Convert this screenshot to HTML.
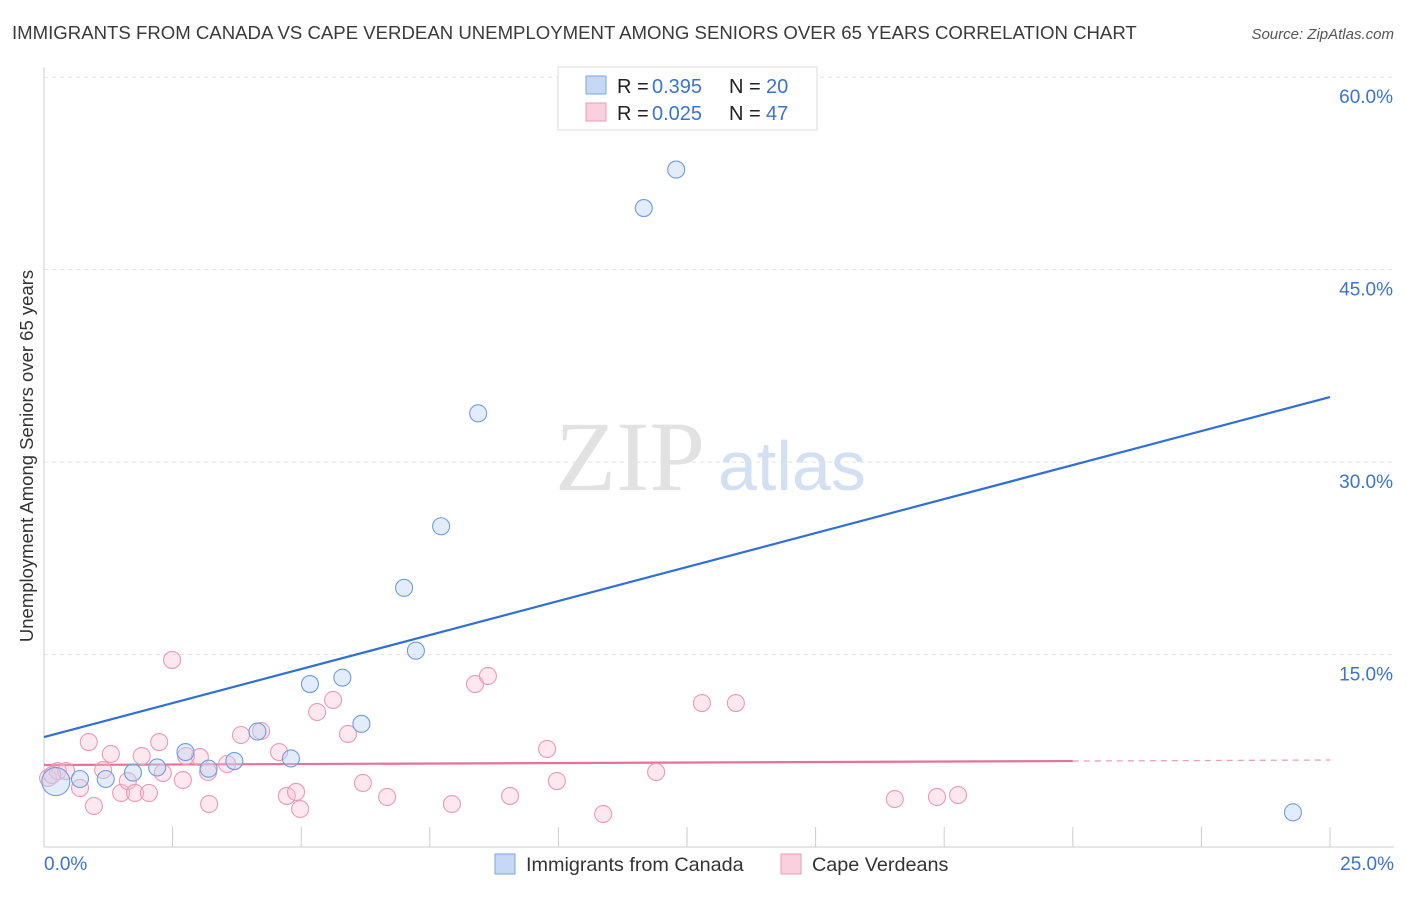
<!DOCTYPE html>
<html><head><meta charset="utf-8"><style>
body{margin:0;background:#fff;font-family:"Liberation Sans",sans-serif}
svg text{font-family:"Liberation Sans",sans-serif}
</style></head><body>
<svg width="1406" height="892" xmlns="http://www.w3.org/2000/svg">
<text x="12" y="39" font-size="18.6" fill="#3a3a3a">IMMIGRANTS FROM CANADA VS CAPE VERDEAN UNEMPLOYMENT AMONG SENIORS OVER 65 YEARS CORRELATION CHART</text>
<text x="1394" y="39" font-size="15" fill="#555" font-style="italic" text-anchor="end">Source: ZipAtlas.com</text>
<g id="grid"></g>
<g id="axes"></g>
<text x="555" y="490" font-size="100" fill="#e2e2e2" style="font-family:'Liberation Serif',serif">ZIP</text>
<text x="718" y="490" font-size="70" fill="#d3e0f3">atlas</text>
<text transform="translate(33,456) rotate(-90)" font-size="18.5" fill="#333" text-anchor="middle">Unemployment Among Seniors over 65 years</text>
<g id="lines"></g>
<g id="pts"></g>
<g>
<rect x="558" y="67" width="259" height="63" fill="#fff" stroke="#ddd"/>
<rect x="586" y="76" width="20" height="18" fill="#c5d8f5" stroke="#7ea6e0"/>
<rect x="586" y="103" width="20" height="18" fill="#fbd0de" stroke="#ee9ab6"/>
<text x="617" y="93" font-size="20" fill="#222">R =</text>
<text x="652" y="93" font-size="20" fill="#3b73d0">0.395</text>
<text x="729" y="93" font-size="20" fill="#222">N =</text>
<text x="766" y="93" font-size="20" fill="#3b73d0">20</text>
<text x="617" y="120" font-size="20" fill="#222">R =</text>
<text x="652" y="120" font-size="20" fill="#3b73d0">0.025</text>
<text x="729" y="120" font-size="20" fill="#222">N =</text>
<text x="766" y="120" font-size="20" fill="#3b73d0">47</text>
</g>
<g>
<rect x="495" y="854" width="20" height="20" fill="#c5d8f5" stroke="#7ea6e0"/>
<text x="526" y="871" font-size="19.8" fill="#333">Immigrants from Canada</text>
<rect x="781" y="854" width="20" height="20" fill="#fbd0de" stroke="#ee9ab6"/>
<text x="812" y="871" font-size="19.8" fill="#333">Cape Verdeans</text>
</g>
</svg>
<script>
const xTicks=[0,2.5,5,7.5,10,12.5,15,17.5,20,22.5,25];
const yTicks=[15,30,45,60];
const yTickLabels=["15.0%","30.0%","45.0%","60.0%"];
const xEndLabels=["0.0%","25.0%"];
const canadaX=[0.23,0.7,1.2,1.73,2.2,2.75,3.2,3.7,4.15,4.8,5.17,5.8,6.17,7.0,7.23,7.72,8.44,11.66,12.29,24.28];
const canadaY=[5.1,5.3,5.3,5.8,6.2,7.4,6.1,6.7,9.0,6.9,12.7,13.2,9.6,20.2,15.3,25.0,33.8,49.8,52.8,2.7];
const capeX=[0.08,0.27,0.43,0.70,0.87,0.97,1.15,1.30,1.50,1.63,1.77,1.90,2.04,2.24,2.31,2.49,2.70,2.76,3.03,3.19,3.21,3.56,3.83,4.22,4.57,4.72,4.90,4.98,5.31,5.62,5.91,6.20,6.67,7.93,8.38,8.63,9.06,9.78,9.97,10.87,11.90,12.79,13.45,16.54,17.36,17.77,0.16];
const capeY=[5.38,5.92,5.92,4.60,8.18,3.20,6.00,7.25,4.21,5.14,4.21,7.09,4.21,8.18,5.77,14.58,5.22,7.09,7.01,5.85,3.35,6.47,8.73,9.04,7.40,3.98,4.29,2.96,10.52,11.46,8.81,4.99,3.90,3.35,12.70,13.33,3.98,7.64,5.14,2.57,5.85,11.22,11.22,3.74,3.90,4.05,5.61];
const canadaTrend=[8.57,35.07];
const capeTrend=[6.39,6.7,6.78];
const NS="http://www.w3.org/2000/svg";
const X=v=>44+v*1286/25, Y=v=>847-v*12.83;
function mk(p,t,a){const e=document.createElementNS(NS,t);for(const k in a)e.setAttribute(k,a[k]);p.appendChild(e);return e;}
const grid=document.getElementById('grid'),axes=document.getElementById('axes'),lines=document.getElementById('lines'),pts=document.getElementById('pts');
yTicks.forEach((t,i)=>{
 const l=mk(grid,'line',{x1:44,x2:1394,y1:Y(t),y2:Y(t),stroke:'#e4e4e4','stroke-dasharray':'4,4'});
 
 
 const tx=mk(axes,'text',{x:1393,y:Y(t)+26,'font-size':19,fill:'#3b73d0','text-anchor':'end'});
 tx.textContent=yTickLabels[i];
 
 
});
const ax=mk(axes,'line',{x1:44,x2:1394,y1:847,y2:847,stroke:'#ccc'});


const ay=mk(axes,'line',{x1:44,x2:44,y1:67,y2:847,stroke:'#ccc'});


xTicks.forEach(t=>{const l=mk(axes,'line',{x1:X(t),x2:X(t),y1:827,y2:847,stroke:'#ccc'});
 
 });
[[0,'start',44],[25,'end',1394]].forEach((d,i)=>{const tx=mk(axes,'text',{x:d[2],y:870,'font-size':19,fill:'#3b73d0','text-anchor':d[1]});tx.textContent=xEndLabels[i];
 
 });
const bl=mk(lines,'line',{x1:X(0),y1:Y(canadaTrend[0]),x2:X(25),y2:Y(canadaTrend[1]),stroke:'#2f6fd6','stroke-width':2.2});


const pl=mk(lines,'line',{x1:X(0),y1:Y(capeTrend[0]),x2:X(20),y2:Y(capeTrend[1]),stroke:'#e8719a','stroke-width':2.2});


const pd=mk(lines,'line',{x1:X(20),y1:Y(capeTrend[1]),x2:X(25),y2:Y(capeTrend[2]),stroke:'#e8a0b8','stroke-width':1.3,'stroke-dasharray':'6,5'});


capeX.forEach((v,i)=>{const c=mk(pts,'circle',{cx:X(v),cy:Y(capeY[i]),r:8.5,fill:'rgba(248,190,210,0.35)',stroke:'#e99ab5','stroke-width':1.1});
 
 });
canadaX.forEach((v,i)=>{const c=mk(pts,'circle',{cx:X(v),cy:Y(canadaY[i]),r:i==0?14:8.5,fill:'rgba(190,212,245,0.45)',stroke:'#6e9de0','stroke-width':1.1});
 
 });
</script>
</body></html>
